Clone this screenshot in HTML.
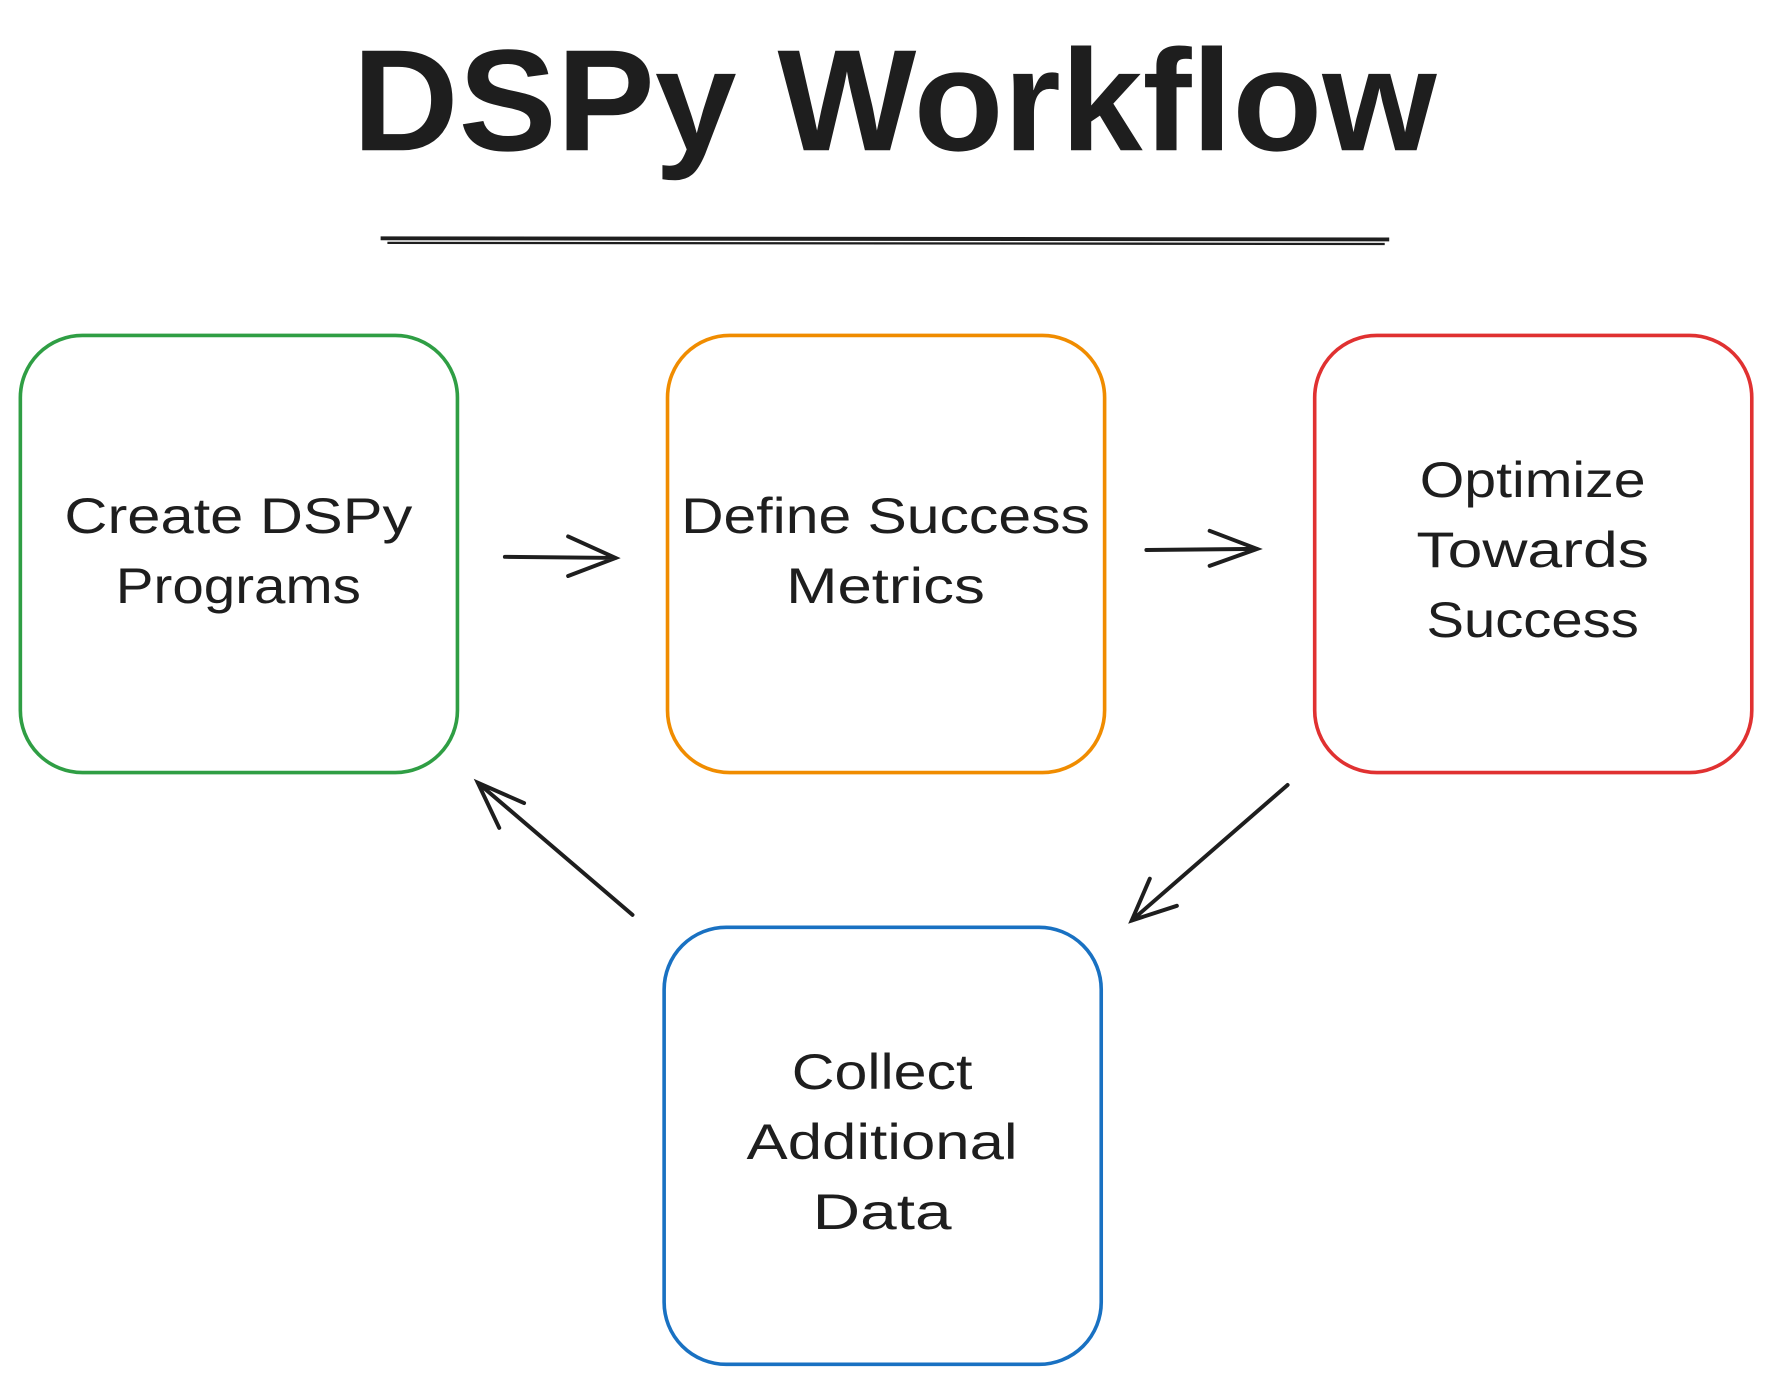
<!DOCTYPE html>
<html><head><meta charset="utf-8"><style>
html,body{margin:0;padding:0;background:#fff;}
svg{display:block;}
text{font-family:"Liberation Sans",sans-serif;fill:#1e1e1e;}
</style></head><body>
<svg width="1771" height="1383" viewBox="0 0 1568 1224.5" xmlns="http://www.w3.org/2000/svg">
<rect width="1568" height="1224.5" fill="#fff"/>
<text x="792" y="133" font-size="128" font-weight="bold" text-anchor="middle" textLength="960" lengthAdjust="spacingAndGlyphs">DSPy Workflow</text>
<path d="M337 211 L1230 212" stroke="#1e1e1e" stroke-width="3.5" fill="none"/>
<path d="M343 215 L1226 216" stroke="#1e1e1e" stroke-width="2" fill="none"/>
<g fill="none" stroke-width="3.2">
<rect x="18" y="297" width="387" height="387" rx="55" stroke="#2f9e44"/>
<rect x="591" y="297" width="387" height="387" rx="55" stroke="#f08c00"/>
<rect x="1164" y="297" width="387" height="387" rx="55" stroke="#e03131"/>
<rect x="588" y="821" width="387" height="387" rx="55" stroke="#1971c2"/>
</g>
<g fill="none" stroke="#1e1e1e" stroke-width="3.5" stroke-linecap="round">
<path d="M447 493 L545 494 M503 475 L545 494 L503 510"/>
<path d="M1015 487 L1113 486 M1071 470 L1113 486 L1071 501"/>
<path d="M1140 695 L1002 815 M1018 778 L1002 815 L1042 802"/>
<path d="M560 810 L423 693 M464 711 L423 693 L442 733"/>
</g>
<g font-size="44" text-anchor="middle">
<text x="211" y="472" textLength="308" lengthAdjust="spacingAndGlyphs">Create DSPy</text>
<text x="211" y="534" textLength="217" lengthAdjust="spacingAndGlyphs">Programs</text>
<text x="784" y="472" textLength="362" lengthAdjust="spacingAndGlyphs">Define Success</text>
<text x="784" y="534" textLength="176" lengthAdjust="spacingAndGlyphs">Metrics</text>
<text x="1357" y="440" textLength="200" lengthAdjust="spacingAndGlyphs">Optimize</text>
<text x="1357" y="502" textLength="206" lengthAdjust="spacingAndGlyphs">Towards</text>
<text x="1357" y="564" textLength="188" lengthAdjust="spacingAndGlyphs">Success</text>
<text x="781" y="964" textLength="160" lengthAdjust="spacingAndGlyphs">Collect</text>
<text x="781" y="1026" textLength="240" lengthAdjust="spacingAndGlyphs">Additional</text>
<text x="781" y="1088" textLength="123" lengthAdjust="spacingAndGlyphs">Data</text>
</g>
</svg>
</body></html>
